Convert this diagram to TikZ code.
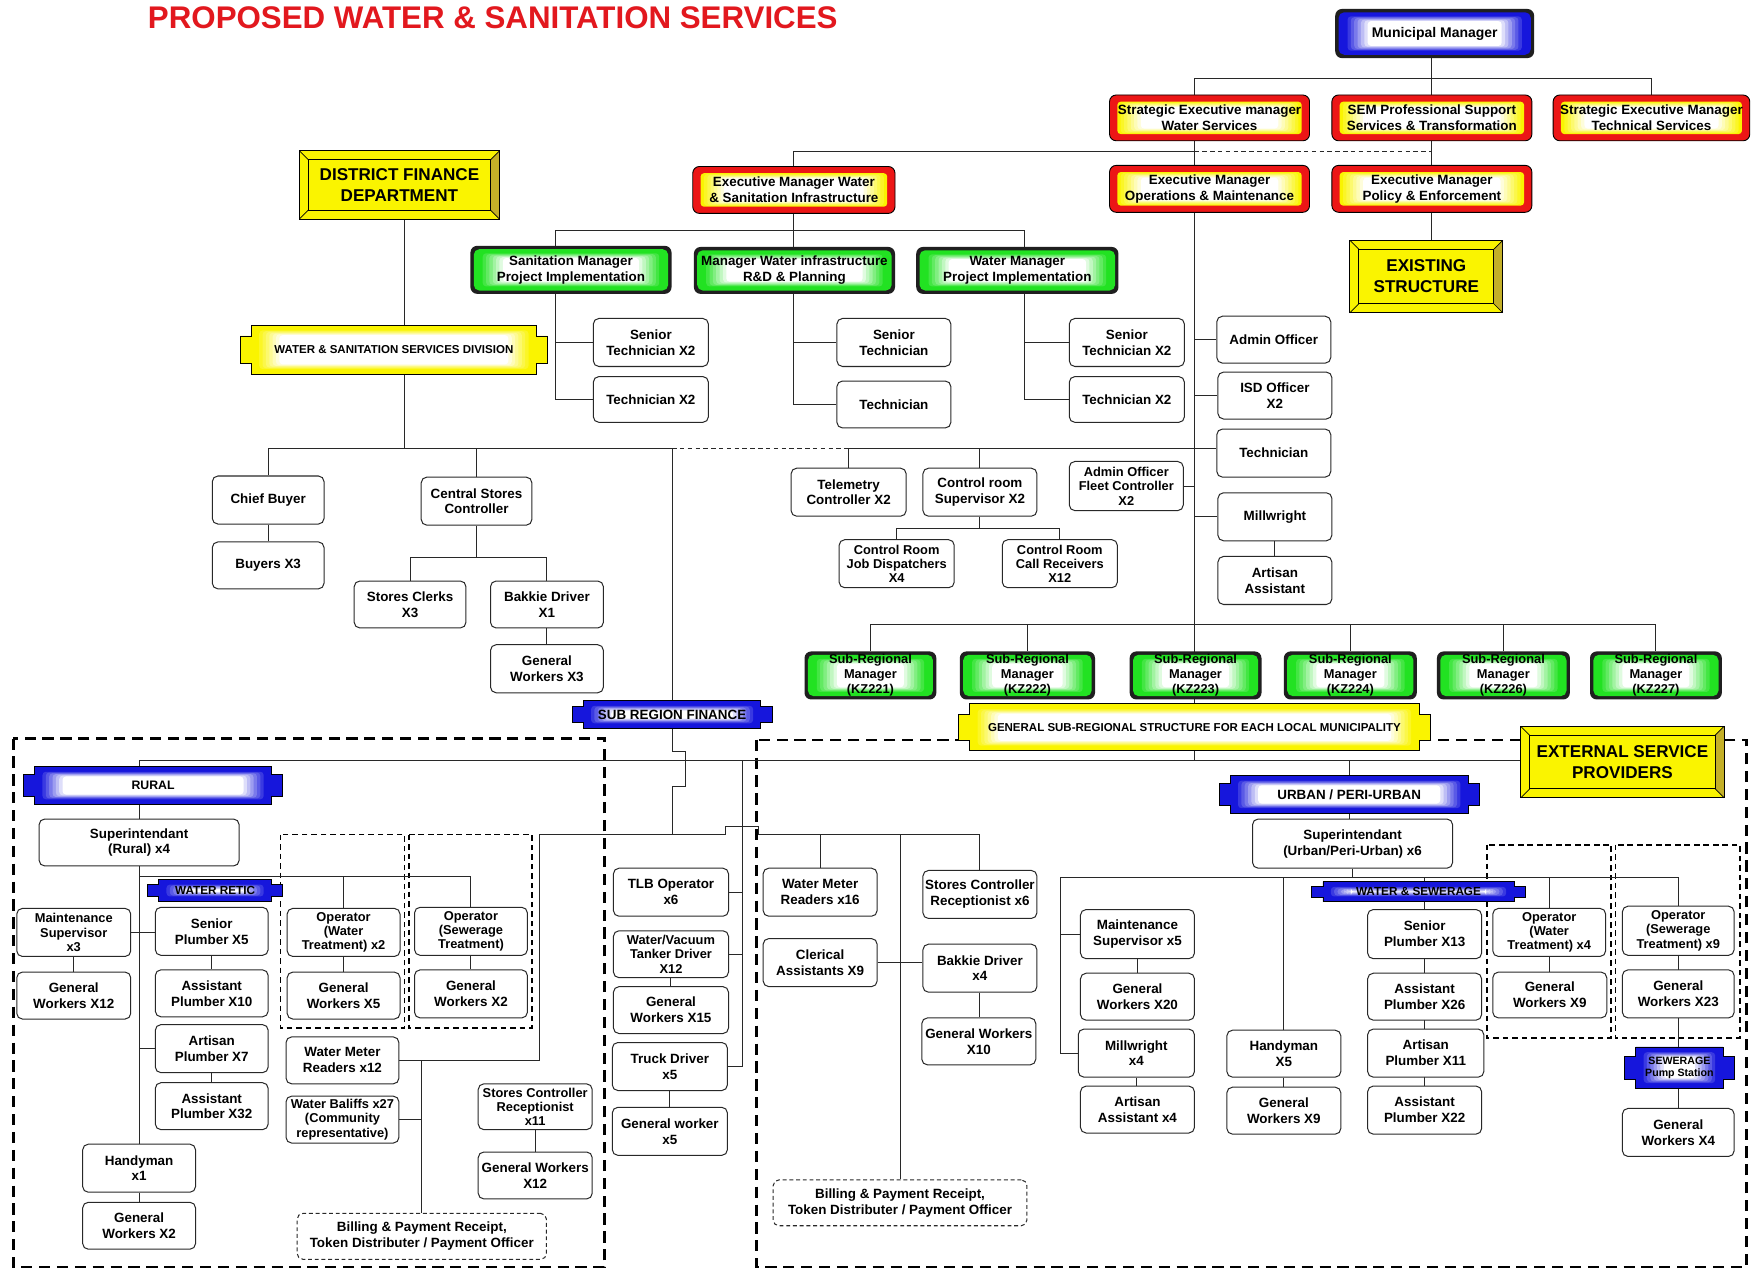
\documentclass[tikz,border=0pt]{standalone}
\usepackage{fontspec}
\setmainfont{Liberation Sans}
\usetikzlibrary{backgrounds}

\definecolor{titlered}{RGB}{226,24,30}
\definecolor{redc}{RGB}{236,22,22}
\definecolor{ringG}{RGB}{34,226,34}
\definecolor{ringB}{RGB}{22,22,220}
\definecolor{ringY}{RGB}{250,244,0}
\definecolor{bevdark}{RGB}{196,176,40}
\definecolor{linec}{RGB}{40,40,40}

\newcommand\bxfont{\bfseries\fontsize{12}{14.2}\selectfont}
\newcommand\bxtight{\bfseries\fontsize{11.5}{12.8}\selectfont}
\newcommand\kzfont{\bfseries\fontsize{11.5}{13.3}\selectfont}
\newcommand\bevfont{\bfseries\fontsize{15.3}{18.8}\selectfont}

% soft inner glow: nested fills from the colour to white
\newcommand\glowfill[5]{%
  \foreach \i in {0,...,7}{%
    \pgfmathtruncatemacro\pc{100-\i*100/7}%
    \fill[#1!\pc!white,rounded corners=3pt] ({#2+\i*3},{#3+\i*0.7}) rectangle ({#4-\i*3},{#5-\i*0.7});}}

% plain rounded box: [opts]{name}{x1}{y1}{x2}{y2}{text}
\newcommand\mkwhite[7][]{%
  \node[wbox,#1,minimum width={(#5-#3)*1pt},minimum height={(#6-#4)*1pt}] (#2) at ({(#3+#5)/2},{(#4+#6)/2}) {#7};}
% dashed rounded box
\newcommand\mkdash[6]{%
  \node[dbox,minimum width={(#4-#2)*1pt},minimum height={(#5-#3)*1pt}] (#1) at ({(#2+#4)/2},{(#3+#5)/2}) {#6};}
% red executive box
\newcommand\mkred[6]{%
  \filldraw[fill=redc,draw=black,line width=.8pt,rounded corners=6pt] (#2,#3) rectangle (#4,#5);
  \glowfill{ringY}{#2+7}{#3+6}{#4-7}{#5-6}
  \node[btext,font=\bxfont,minimum width={(#4-#2)*1pt},minimum height={(#5-#3)*1pt}] (#1) at ({(#2+#4)/2},{(#3+#5)/2}) {#6};}
% framed glowing box (green or blue ring)
\newcommand\mkglow[8][\bxfont]{%
  \fill[black!88,rounded corners=6pt] (#3,#4) rectangle (#5,#6);
  \fill[ring#7,rounded corners=5pt] ({#3+3},{#4+3}) rectangle ({#5-3},{#6-3});
  \glowfill{ring#7}{#3+8}{#4+6}{#5-8}{#6-6}
  \node[btext,font=#1,minimum width={(#5-#3)*1pt},minimum height={(#6-#4)*1pt}] (#2) at ({(#3+#5)/2},{(#4+#6)/2}) {#8};}
% banner with tabbed ends
\newcommand\mkbanner[8][\bxfont]{%
  \filldraw[fill=ring#7,draw=black,line width=.8pt]
    (#3,{#4+0.22*(#6-#4)}) -- ({#3+10},{#4+0.22*(#6-#4)}) -- ({#3+10},#4) -- ({#5-10},#4)
    -- ({#5-10},{#4+0.22*(#6-#4)}) -- (#5,{#4+0.22*(#6-#4)}) -- (#5,{#6-0.22*(#6-#4)})
    -- ({#5-10},{#6-0.22*(#6-#4)}) -- ({#5-10},#6) -- ({#3+10},#6) -- ({#3+10},{#6-0.22*(#6-#4)})
    -- (#3,{#6-0.22*(#6-#4)}) -- cycle;
  \glowfill{ring#7}{#3+14}{#4+4}{#5-14}{#6-4}
  \node[btext,font=#1,minimum width={(#5-#3)*1pt},minimum height={(#6-#4)*1pt}] (#2) at ({(#3+#5)/2},{(#4+#6)/2}) {#8};}
% bevelled yellow plate
\newcommand\mkbevel[6]{%
  \fill[ringY] (#2,#3) rectangle (#4,#5);
  \fill[bevdark] (#4,#3) -- (#4,#5) -- ({#4-8},{#5-8}) -- ({#4-8},{#3+8}) -- cycle;
  \draw[black,line width=.8pt] (#2,#3) rectangle (#4,#5);
  \draw[black,line width=.8pt] ({#2+8},{#3+8}) rectangle ({#4-8},{#5-8});
  \draw[black,line width=.6pt] (#2,#3) -- ({#2+8},{#3+8}) (#4,#3) -- ({#4-8},{#3+8})
    (#2,#5) -- ({#2+8},{#5-8}) (#4,#5) -- ({#4-8},{#5-8});
  \node[btext,font=\bevfont,minimum width={(#4-#2)*1pt},minimum height={(#5-#3)*1pt}] (#1) at ({(#2+#4)/2},{(#3+#5)/2}) {#6};}

\begin{document}
\begin{tikzpicture}[x=1pt,y=-1pt,
  btext/.style={align=center,inner sep=0pt,text=black},
  wbox/.style={btext,font=\bxfont,draw=linec,fill=white,rounded corners=5pt,line width=.9pt},
  dbox/.style={wbox,dash pattern=on 3.5pt off 2.5pt},
  conn/.style={draw=linec,line width=.9pt},
  dline/.style={conn,dash pattern=on 4pt off 3pt},
  region/.style={draw=black,line width=2pt,dash pattern=on 10pt off 6pt},
  group/.style={draw=black,line width=1.4pt,dash pattern=on 5pt off 3.5pt}]
\useasboundingbox (0,0) rectangle (1568,1136);

% ---------- title ----------
\node[font=\bfseries\fontsize{28}{30}\selectfont,text=titlered,inner sep=0pt] (title) at (441,16) {PROPOSED WATER \& SANITATION SERVICES};

% ---------- executive levels ----------
\mkglow[\bfseries\fontsize{12.5}{14}\selectfont]{mm}{1195}{8}{1373}{52}{B}{Municipal Manager}
\mkred{semws}{993}{85}{1172}{126}{Strategic Executive manager\\Water Services}
\mkred{sempst}{1192}{85}{1371}{126}{SEM Professional Support\\Services \& Transformation}
\mkred{semts}{1390}{85}{1566}{126}{Strategic Executive Manager\\Technical Services}
\mkred{emws}{620}{149}{801}{191}{Executive Manager Water\\\& Sanitation Infrastructure}
\mkred{emom}{993}{148}{1172}{190}{Executive Manager\\Operations \& Maintenance}
\mkred{empe}{1192}{148}{1371}{190}{Executive Manager\\Policy \& Enforcement}
\mkbevel{exist}{1208}{215}{1345}{280}{EXISTING\\STRUCTURE}
\mkbevel{dfd}{268}{135}{447}{196}{DISTRICT FINANCE\\DEPARTMENT}
\mkbanner[\bfseries\fontsize{10.3}{12}\selectfont]{wssd}{215}{291}{490}{335}{Y}{WATER \& SANITATION SERVICES DIVISION}

% ---------- infrastructure managers ----------
\mkglow{gsan}{421}{220}{601}{263}{G}{Sanitation Manager\\Project Implementation}
\mkglow{grd}{621}{221}{801}{263}{G}{Manager Water infrastructure\\R\&D \& Planning}
\mkglow{gwm}{820}{221}{1001}{263}{G}{Water Manager\\Project Implementation}
\mkwhite{st1}{531}{285}{634}{328}{Senior\\Technician X2}
\mkwhite{t1}{531}{337}{634}{378}{Technician X2}
\mkwhite{st2}{749}{285}{851}{328}{Senior\\Technician}
\mkwhite{t2}{749}{341}{851}{383}{Technician}
\mkwhite{st3}{957}{285}{1060}{328}{Senior\\Technician X2}
\mkwhite{t3}{957}{337}{1060}{378}{Technician X2}

% ---------- operations column ----------
\mkwhite{admo}{1089}{283}{1191}{325}{Admin Officer}
\mkwhite{isd}{1090}{333}{1192}{375}{ISD Officer\\X2}
\mkwhite{tech}{1089}{384}{1191}{427}{Technician}
\mkwhite{mill}{1090}{441}{1192}{484}{Millwright}
\mkwhite{artA}{1090}{498}{1192}{541}{Artisan\\Assistant}
\mkwhite[font=\bxtight]{fleet}{957}{413}{1059}{457}{Admin Officer\\Fleet Controller\\X2}
\mkwhite{tele}{708}{419}{811}{462}{Telemetry\\Controller X2}
\mkwhite{crs}{826}{419}{928}{462}{Control room\\Supervisor X2}
\mkwhite[font=\bxtight]{crjd}{751}{483}{854}{526}{Control Room\\Job Dispatchers\\X4}
\mkwhite[font=\bxtight]{crcr}{897}{483}{1000}{526}{Control Room\\Call Receivers\\X12}

% ---------- finance ----------
\mkwhite{chief}{190}{426}{290}{469}{Chief Buyer}
\mkwhite{buy}{190}{485}{290}{527}{Buyers X3}
\mkwhite{csc}{377}{427}{476}{470}{Central Stores\\Controller}
\mkwhite{scl}{317}{520}{417}{562}{Stores Clerks\\X3}
\mkwhite{bak1}{439}{520}{540}{562}{Bakkie Driver\\X1}
\mkwhite{gw3}{439}{577}{540}{620}{General\\Workers X3}
\mkbanner[\bfseries\fontsize{12}{14}\selectfont]{srf}{512}{627}{691}{652}{B}{SUB REGION FINANCE}

% ---------- sub-regional managers ----------
\mkglow[\kzfont]{kz221}{720}{583}{838}{626}{G}{Sub-Regional\\Manager\\(KZ221)}
\mkglow[\kzfont]{kz222}{859}{583}{980}{626}{G}{Sub-Regional\\Manager\\(KZ222)}
\mkglow[\kzfont]{kz223}{1011}{583}{1129}{626}{G}{Sub-Regional\\Manager\\(KZ223)}
\mkglow[\kzfont]{kz224}{1149}{583}{1268}{626}{G}{Sub-Regional\\Manager\\(KZ224)}
\mkglow[\kzfont]{kz226}{1286}{583}{1405}{626}{G}{Sub-Regional\\Manager\\(KZ226)}
\mkglow[\kzfont]{kz227}{1423}{583}{1541}{626}{G}{Sub-Regional\\Manager\\(KZ227)}
\mkbanner[\bfseries\fontsize{10.3}{12}\selectfont]{gen}{858}{630}{1280}{672}{Y}{GENERAL SUB-REGIONAL STRUCTURE FOR EACH LOCAL MUNICIPALITY}
\mkbevel{esp}{1361}{650}{1543}{714}{EXTERNAL SERVICE\\PROVIDERS}

% ---------- rural ----------
\mkbanner[\bfseries\fontsize{11}{13}\selectfont]{rural}{21}{686}{253}{720}{B}{RURAL}
\mkwhite{supR}{35}{733}{214}{775}{Superintendant\\(Rural) x4}
\mkbanner[\bfseries\fontsize{10.5}{12}\selectfont]{wret}{132}{787}{253}{807}{B}{WATER RETIC}
\mkwhite[font=\bxtight]{msR}{15}{813}{117}{856}{Maintenance\\Supervisor\\x3}
\mkwhite{gw12}{15}{870}{117}{912}{General\\Workers X12}
\mkwhite{sp5}{139}{812}{240}{855}{Senior\\Plumber X5}
\mkwhite{ap10}{139}{868}{240}{910}{Assistant\\Plumber X10}
\mkwhite{ap7}{139}{917}{240}{960}{Artisan\\Plumber X7}
\mkwhite{ap32}{139}{969}{240}{1011}{Assistant\\Plumber X32}
\mkwhite{hm1}{74}{1024}{175}{1067}{Handyman\\x1}
\mkwhite{gw2a}{74}{1076}{175}{1118}{General\\Workers X2}
\mkwhite[font=\bxtight]{owR}{257}{813}{358}{856}{Operator\\(Water\\Treatment) x2}
\mkwhite{gw5}{257}{870}{358}{912}{General\\Workers X5}
\mkwhite[font=\bxtight]{osR}{371}{812}{472}{855}{Operator\\(Sewerage\\Treatment)}
\mkwhite{gw2b}{371}{868}{472}{911}{General\\Workers X2}
\mkwhite{wmr12}{256}{928}{357}{970}{Water Meter\\Readers x12}
\mkwhite[font=\bxtight]{wb27}{256}{981}{357}{1023}{Water Baliffs x27\\(Community\\representative)}
\mkwhite[font=\bxtight]{scr11}{428}{970}{530}{1011}{Stores Controller\\Receptionist\\x11}
\mkwhite{gw12b}{428}{1031}{530}{1073}{General Workers\\X12}
\mkdash{billR}{266}{1086}{489}{1127}{Billing \& Payment Receipt,\\Token Distributer / Payment Officer}

% ---------- plant and transport ----------
\mkwhite{tlb}{549}{777}{652}{820}{TLB Operator\\x6}
\mkwhite[font=\bxtight]{wvt}{549}{833}{652}{875}{Water/Vacuum\\Tanker Driver\\X12}
\mkwhite{gw15}{549}{883}{652}{925}{General\\Workers X15}
\mkwhite{trk}{548}{933}{651}{976}{Truck Driver\\x5}
\mkwhite{gw5b}{548}{991}{651}{1034}{General worker\\x5}

% ---------- urban / peri-urban ----------
\mkwhite{wmr16}{683}{777}{785}{820}{Water Meter\\Readers x16}
\mkwhite{cler}{683}{840}{785}{883}{Clerical\\Assistants X9}
\mkwhite{scr6}{826}{779}{928}{822}{Stores Controller\\Receptionist x6}
\mkwhite{bak4}{826}{845}{928}{888}{Bakkie Driver\\x4}
\mkwhite{gw10}{825}{911}{927}{953}{General Workers\\X10}
\mkdash{billU}{692}{1056}{919}{1097}{Billing \& Payment Receipt,\\Token Distributer / Payment Officer}
\mkbanner[\bfseries\fontsize{12}{14}\selectfont]{urban}{1091}{694}{1324}{728}{B}{URBAN / PERI-URBAN}
\mkwhite{supU}{1121}{733}{1300}{777}{Superintendant\\(Urban/Peri-Urban) x6}
\mkwhite{msU}{967}{814}{1069}{858}{Maintenance\\Supervisor x5}
\mkwhite{gw20}{967}{871}{1069}{913}{General\\Workers X20}
\mkwhite{millU}{965}{921}{1069}{964}{Millwright\\x4}
\mkwhite{aa4}{967}{972}{1069}{1014}{Artisan\\Assistant x4}
\mkwhite{hm5}{1098}{922}{1200}{964}{Handyman\\X5}
\mkwhite{gw9a}{1098}{973}{1200}{1015}{General\\Workers X9}
\mkbanner[\bfseries\fontsize{10.5}{12}\selectfont]{wsew}{1174}{789}{1365}{807}{B}{WATER \& SEWERAGE}
\mkwhite{sp13}{1224}{814}{1326}{858}{Senior\\Plumber X13}
\mkwhite{ap26}{1224}{871}{1326}{913}{Assistant\\Plumber X26}
\mkwhite{ap11}{1224}{921}{1328}{964}{Artisan\\Plumber X11}
\mkwhite{ap22}{1224}{972}{1326}{1015}{Assistant\\Plumber X22}
\mkwhite[font=\bxtight]{owU}{1336}{813}{1437}{856}{Operator\\(Water\\Treatment) x4}
\mkwhite{gw9b}{1336}{870}{1438}{911}{General\\Workers X9}
\mkwhite[font=\bxtight]{osU}{1452}{811}{1552}{855}{Operator\\(Sewerage\\Treatment) x9}
\mkwhite{gw23}{1452}{868}{1552}{911}{General\\Workers X23}
\mkbanner[\bfseries\fontsize{9.5}{11}\selectfont]{sps}{1454}{937}{1552}{974}{B}{SEWERAGE\\Pump Station}
\mkwhite{gw4}{1452}{992}{1552}{1035}{General\\Workers X4}

% ---------- frames and connectors, behind the boxes ----------
\begin{scope}[on background layer]
  \fill[white] (0,0) rectangle (1568,1136);
  \draw[region] (12,661) rectangle (541,1134);
  \draw[region] (677,662) rectangle (1563,1134);
  \draw[group] (251,747) rectangle (362,920);
  \draw[group] (366,747) rectangle (476,920);
  \draw[group] (1331,756) rectangle (1442,929);
  \draw[group] (1446,756) rectangle (1557,929);

  % executive tree
  \coordinate (tk) at (1069,70);
  \coordinate (tkb) at (1069,681);
  \draw[conn] (sempst.north) -- (sempst.north |- mm.south);
  \draw[conn] (tk) -| (semts.north);
  \draw[conn] (tk) -- (tkb);
  \draw[conn] (sempst.south) -- (sempst.south |- empe.north);
  \draw[conn] (empe.south) -- (empe.south |- exist.north);
  \coordinate (jd) at (1069,136);
  \draw[dline] (jd) -- (jd -| sempst.south);
  \draw[conn] (jd) -| (emws.north);

  % infrastructure managers
  \coordinate (s1) at (497,206);
  \coordinate (s3) at (917,206);
  \draw[conn] (s1) -- (s3);
  \draw[conn] (s1) |- (t1.west);
  \draw[conn] (st1.west) -- (st1.west -| s1);
  \draw[conn] (emws.south) |- (t2.west);
  \draw[conn] (st2.west) -- (st2.west -| emws.south);
  \draw[conn] (s3) |- (t3.west);
  \draw[conn] (st3.west) -- (st3.west -| s3);

  % finance
  \coordinate (fb) at (362,401);
  \coordinate (sf) at (601.5,401);
  \draw[conn] (dfd.south -| fb) -- (fb);
  \draw[conn] (chief.north) |- (sf) -- (srf.north);
  \draw[conn] (csc.north) -- (csc.north |- fb);
  \draw[conn] (chief.south) -- (chief.south |- buy.north);
  \coordinate (csj) at (0,499);
  \draw[conn] (csc.south) -- (csc.south |- csj);
  \draw[conn] (scl.north) |- (csc.south |- csj) -| (bak1.north);
  \draw[conn] (bak1.south) -- (bak1.south |- gw3.north);

  % operations
  \draw[dline] (sf) -- (tele.north |- sf);
  \draw[conn] (tele.north) |- (tech.west |- sf);
  \draw[conn] (crs.north) -- (crs.north |- sf);
  \coordinate (crj) at (0,473);
  \draw[conn] (crs.south) -- (crs.south |- crj);
  \draw[conn] (crjd.north) |- (crs.south |- crj) -| (crcr.north);
  \draw[conn] (fleet.east) -- (fleet.east -| tk);
  \draw[conn] (admo.west) -- (admo.west -| tk);
  \draw[conn] (isd.west) -- (isd.west -| tk);
  \draw[conn] (mill.west) -- (mill.west -| tk);
  \draw[conn] (mill.south) -- (mill.south |- artA.north);

  % sub-regional managers
  \coordinate (kzb) at (0,558.5);
  \draw[conn] (kz221.north) |- (kz227.north |- kzb) -- (kz227.north);
  \foreach \k in {kz222,kz224,kz226} \draw[conn] (\k.north) -- (\k.north |- kzb);

  % general sub-regional structure
  \coordinate (rb) at (0,681);
  \draw[conn] (supR.north |- rural.north) -- (supR.north |- rb) -- (esp.west |- rb);
  \draw[conn] (supR.north |- rural.south) -- (supR.north);
  \draw[conn] (urban.north) -- (urban.north |- rb);
  \draw[conn] (urban.south) -- (urban.south |- supU.north);

  % sub region finance: stores, meters and billing
  \coordinate (sj) at (601.5,746.5);
  \coordinate (hl) at (483,746.5);
  \draw[conn] (srf.south) -- ++(0,20) -- ++(12,0) -- ++(0,32) -- ++(-12,0) -- (sj);
  \draw[conn] (wmr12.east) -| (hl) -- (sj) -- ++(48,0) -- ++(0,-6.5) -- ++(29,0) -- ++(0,6.5) -| (scr6.north);
  \draw[conn] (wmr16.north) -- (wmr16.north |- sj);
  \draw[conn] (billU.north) -- (billU.north |- sj);
  \draw[conn] (cler.east) -- (cler.east -| bak4.west);
  \draw[conn] (bak4.south) -- (bak4.south |- gw10.north);
  \draw[conn] (billR.north) -- (billR.north |- wmr12.east);
  \draw[conn] (wb27.east) -- (wb27.east -| billR.north);
  \draw[conn] (scr11.south) -- (scr11.south |- gw12b.north);

  % plant and transport
  \coordinate (mv) at (664.7,681);
  \draw[conn] (mv) |- (trk.east);
  \draw[conn] (tlb.east) -- (tlb.east -| mv);
  \draw[conn] (wvt.east) -- (wvt.east -| mv);
  \draw[conn] (wvt.south) -- (wvt.south |- gw15.north);
  \draw[conn] (trk.south) -- (trk.south |- gw5b.north);

  % rural
  \coordinate (rw) at (0,784);
  \draw[conn] (supR.south) -- (supR.south |- hm1.north);
  \draw[conn] (supR.south |- rw) -| (osR.north);
  \draw[conn] (owR.north) -- (owR.north |- rw);
  \draw[conn] (msR.east) -- (msR.east -| sp5.west);
  \draw[conn] (msR.south) -- (msR.south |- gw12.north);
  \draw[conn] (sp5.south) -- (sp5.south |- ap10.north);
  \draw[conn] (ap7.west) -- (ap7.west -| supR.south);
  \draw[conn] (ap7.south) -- (ap7.south |- ap32.north);
  \draw[conn] (hm1.south) -- (hm1.south |- gw2a.north);
  \draw[conn] (owR.south) -- (owR.south |- gw5.north);
  \draw[conn] (osR.south) -- (osR.south |- gw2b.north);

  % urban
  \coordinate (ub) at (948.7,785);
  \draw[conn] (supU.south) -- (supU.south |- ub);
  \draw[conn] (millU.west) -| (ub) -| (osU.north);
  \draw[conn] (msU.west) -- (msU.west -| ub);
  \draw[conn] (hm5.north) -- (hm5.north |- ub);
  \draw[conn] (sp13.north) -- (sp13.north |- ub);
  \draw[conn] (owU.north) -- (owU.north |- ub);
  \draw[conn] (msU.south) -- (msU.south |- gw20.north);
  \draw[conn] (millU.south) -- (millU.south |- aa4.north);
  \draw[conn] (hm5.south) -- (hm5.south |- gw9a.north);
  \draw[conn] (sp13.south) -- (sp13.south |- ap22.north);
  \draw[conn] (owU.south) -- (owU.south |- gw9b.north);
  \draw[conn] (osU.south) -- (osU.south |- gw4.north);
\end{scope}
\end{tikzpicture}
\end{document}
